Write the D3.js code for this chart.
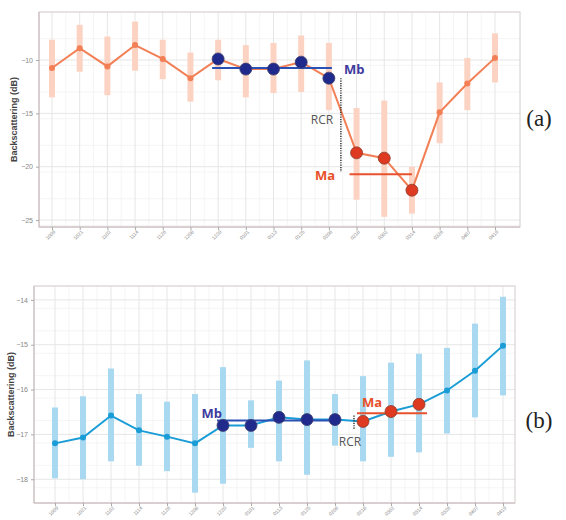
<!DOCTYPE html>
<html lang="en">
<head>
<meta charset="UTF-8" />
<title>backscattering</title>
<script src="https://d3js.org/d3.v7.min.js"></script>
<style>
  body { margin: 0; background: #fff; }
  .panel-label { font-family: "Liberation Serif", serif; font-size: 23px; fill: #222; }
  .ylab { font-family: "Liberation Sans", Arial, sans-serif; font-size: 9px; font-weight: bold; fill: #444; }
  .tick text { font-family: "Liberation Sans", Arial, sans-serif; fill: #888; }
</style>
</head>
<body>
<script>
const W = 566, H = 520;

// acquisition dates (tick labels)
const dates = ["1009","1021","1102","1114","1126","1208","1220","0101","0113",
               "0125","0206","0218","0302","0314","0326","0407","0419"];

// panel (a)
const aMean = [-10.75,-8.9,-10.6,-8.6,-9.9,-11.7,-9.9,-10.85,-10.85,-10.2,-11.7,-18.7,-19.2,-22.2,-14.9,-12.2,-9.8];
const aHigh = [-8.1,-6.7,-7.8,-6.4,-8.1,-9.3,-8.1,-8.6,-8.4,-7.7,-8.4,-14.5,-13.8,-20.0,-12.1,-9.8,-7.5];
const aLow  = [-13.5,-11.1,-13.3,-11.0,-11.8,-13.9,-11.9,-13.5,-13.1,-13.0,-14.7,-23.1,-24.7,-24.4,-17.8,-14.7,-12.1];
const aTicks = [-10,-15,-20,-25];
const aMb = -10.75, aMa = -20.7;

// panel (b)
const bMean = [-17.2,-17.07,-16.58,-16.91,-17.05,-17.2,-16.8,-16.8,-16.62,-16.67,-16.67,-16.71,-16.49,-16.33,-16.02,-15.58,-15.02];
const bHigh = [-16.4,-16.15,-15.53,-16.1,-16.27,-16.1,-15.5,-16.24,-15.8,-15.35,-16.1,-15.7,-15.4,-15.2,-15.07,-14.53,-13.93];
const bLow  = [-17.98,-18.0,-17.6,-17.7,-17.82,-18.3,-18.1,-17.3,-17.6,-17.9,-17.25,-17.6,-17.5,-17.4,-16.98,-16.62,-16.13];
const bTicks = [-14,-15,-16,-17,-18];
const bMb = -16.69, bMa = -16.53;

const beforeIdx = [6,7,8,9,10];
const afterIdx = [11,12,13];

const svg = d3.select("body").append("svg")
  .attr("width", W).attr("height", H);

function drawPanel(o) {
  const g = svg.append("g");
  const x = d3.scalePoint().domain(d3.range(dates.length)).range(o.xr);
  const y = d3.scaleLinear().domain(o.yd).range(o.yr);
  const [x0, x1] = [o.box[0], o.box[1]];
  const [y0, y1] = [y.range()[0], y.range()[1]];

  // grid (major + minor)
  const step = x.step();
  const minorX = d3.range(dates.length - 1).map(i => x(i) + step / 2);
  const yStep = o.ticks[0] - o.ticks[1];
  const minorY = d3.range(o.yd[1], o.yd[0], -yStep / 2);
  g.append("g").selectAll("line").data(minorX).join("line")
    .attr("x1", d => d).attr("x2", d => d).attr("y1", y0).attr("y2", y1)
    .attr("stroke", "#f3f3f3").attr("stroke-width", 0.8);
  g.append("g").selectAll("line").data(minorY).join("line")
    .attr("x1", x0).attr("x2", x1).attr("y1", d => y(d)).attr("y2", d => y(d))
    .attr("stroke", "#f3f3f3").attr("stroke-width", 0.8);
  g.append("g").selectAll("line").data(d3.range(dates.length)).join("line")
    .attr("x1", d => x(d)).attr("x2", d => x(d)).attr("y1", y0).attr("y2", y1)
    .attr("stroke", "#e6e6e6").attr("stroke-width", 1);
  g.append("g").selectAll("line").data(o.ticks).join("line")
    .attr("x1", x0).attr("x2", x1).attr("y1", d => y(d)).attr("y2", d => y(d))
    .attr("stroke", "#e6e6e6").attr("stroke-width", 1);

  // border
  g.append("rect").attr("x", x0).attr("y", y1).attr("width", x1 - x0).attr("height", y0 - y1)
    .attr("fill", "none").attr("stroke", "#d4cccc").attr("stroke-width", 1);

  // axes
  g.append("g").attr("transform", `translate(0,${y0})`)
    .call(d3.axisBottom(x).tickSize(3).tickFormat(i => dates[i]))
    .call(a => a.select(".domain").attr("stroke", "#c8bcbc").attr("d", `M${x0},0H${x1}`))
    .call(a => a.selectAll(".tick line").attr("stroke", "#aaa"))
    .call(a => a.selectAll(".tick text")
      .attr("font-size", 5).attr("text-anchor", "end")
      .attr("transform", "translate(2,4) rotate(-45)").attr("dy", "0.35em").attr("y", 0).attr("x", 0));
  g.append("g").attr("transform", `translate(${x0},0)`)
    .call(d3.axisLeft(y).tickValues(o.ticks).tickSize(3).tickPadding(3).tickFormat(d3.format("d")))
    .call(a => a.select(".domain").attr("stroke", "#c8bcbc").attr("d", `M0,${y0}V${y1}`))
    .call(a => a.selectAll(".tick line").attr("stroke", "#aaa"))
    .call(a => a.selectAll(".tick text").attr("font-size", 7));

  g.append("text").attr("class", "ylab")
    .attr("transform", `translate(${o.ylabX},${(y0 + y1) / 2}) rotate(-90)`)
    .attr("text-anchor", "middle").text("Backscattering (dB)");

  // error bars
  g.append("g").selectAll("line").data(o.mean).join("line")
    .attr("x1", (d, i) => x(i)).attr("x2", (d, i) => x(i))
    .attr("y1", (d, i) => y(o.high[i])).attr("y2", (d, i) => y(o.low[i]))
    .attr("stroke", o.barColor).attr("stroke-width", 6);

  // mean line
  g.append("path").datum(o.mean)
    .attr("fill", "none").attr("stroke", o.lineColor).attr("stroke-width", o.lineW)
    .attr("d", d3.line().x((d, i) => x(i)).y(d => y(d)));

  // small dots
  g.append("g").selectAll("circle").data(o.mean).join("circle")
    .attr("cx", (d, i) => x(i)).attr("cy", d => y(d)).attr("r", 3)
    .attr("fill", o.lineColor);

  // Mb / Ma reference lines
  const bx0 = x(beforeIdx[0]) - 6, bx1 = x(beforeIdx[beforeIdx.length - 1]) + 3;
  g.append("line").attr("x1", bx0).attr("x2", bx1).attr("y1", y(o.mb)).attr("y2", y(o.mb))
    .attr("stroke", "#2a4fb5").attr("stroke-width", 2);
  const ax0 = x(afterIdx[0]) + o.maOff[0], ax1 = x(afterIdx[afterIdx.length - 1]) + o.maOff[1];
  g.append("line").attr("x1", ax0).attr("x2", ax1).attr("y1", y(o.ma)).attr("y2", y(o.ma))
    .attr("stroke", "#e8512d").attr("stroke-width", 2);

  // highlighted points
  g.append("g").selectAll("circle").data(beforeIdx).join("circle")
    .attr("cx", i => x(i)).attr("cy", i => y(o.mean[i])).attr("r", 6)
    .attr("fill", "#1f2a8c").attr("stroke", "#3b3b6b").attr("stroke-width", 0.8);
  g.append("g").selectAll("circle").data(afterIdx).join("circle")
    .attr("cx", i => x(i)).attr("cy", i => y(o.mean[i])).attr("r", 6)
    .attr("fill", "#de3a22").attr("stroke", "#8a3a2a").attr("stroke-width", 0.8);

  // RCR dotted line
  const rx = x(beforeIdx[beforeIdx.length - 1]) + o.rcrDx;
  g.append("line").attr("x1", rx).attr("x2", rx)
    .attr("y1", y(o.rcr[0])).attr("y2", y(o.rcr[1]))
    .attr("stroke", "#333").attr("stroke-width", 1.5).attr("stroke-dasharray", "1.2,1.2");

  const font = "'Open Sans', 'Liberation Sans', sans-serif";
  g.append("text").attr("x", o.mbPos[0]).attr("y", o.mbPos[1]).attr("text-anchor", o.mbPos[2])
    .attr("font-family", font).attr("font-size", 13).attr("font-weight", "bold")
    .attr("fill", "#3d3b9e").text("Mb");
  g.append("text").attr("x", o.maPos[0]).attr("y", o.maPos[1]).attr("text-anchor", o.maPos[2])
    .attr("font-family", font).attr("font-size", 13).attr("font-weight", "bold")
    .attr("fill", "#e8502a").text("Ma");
  g.append("text").attr("x", o.rcrPos[0]).attr("y", o.rcrPos[1]).attr("text-anchor", "middle")
    .attr("font-family", font).attr("font-size", 12)
    .attr("fill", "#555").text("RCR");

  svg.append("text").attr("class", "panel-label")
    .attr("x", 539).attr("y", o.labelY).attr("text-anchor", "middle").text(o.label);
}

drawPanel({
  mean: aMean, high: aHigh, low: aLow, ticks: aTicks,
  xr: [52, 495], yd: [-25.65, -5.5], yr: [227, 12], box: [39, 520],
  ylabX: 17, barColor: "#fcd3c2", lineColor: "#f27f55", lineW: 2,
  mb: aMb, ma: aMa, maOff: [-7, 0], rcrDx: 12, rcr: [-11.7, -20.5],
  mbPos: [344, 74, "start"], maPos: [325, 180, "middle"], rcrPos: [322, 124],
  label: "(a)", labelY: 126
});

drawPanel({
  mean: bMean, high: bHigh, low: bLow, ticks: bTicks,
  xr: [55, 503], yd: [-18.53, -13.69], yr: [503, 286], box: [34, 515],
  ylabX: 14, barColor: "#a9d9f0", lineColor: "#1a9dd6", lineW: 2,
  mb: bMb, ma: bMa, maOff: [-6, 8], rcrDx: 19, rcr: [-16.58, -16.9],
  mbPos: [222, 418, "end"], maPos: [372, 407, "middle"], rcrPos: [350, 446],
  label: "(b)", labelY: 428
});
</script>
</body>
</html>
